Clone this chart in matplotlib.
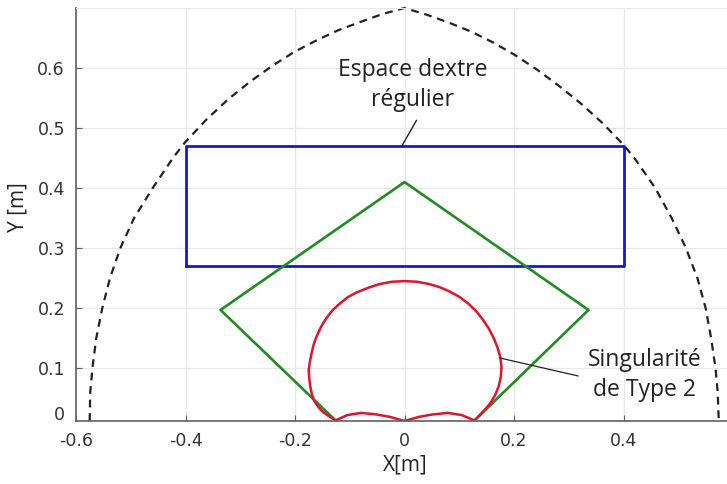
import matplotlib
matplotlib.use("Agg")
import matplotlib.pyplot as plt

# ---- data ----
# dashed workspace boundary (x, y), left foot -> apex -> right foot
boundary_x = [-0.575, -0.574, -0.570, -0.563, -0.552, -0.538, -0.519, -0.494, -0.460, -0.423,
              -0.402, -0.362, -0.322, -0.281, -0.241, -0.201, -0.161, -0.121, -0.080, -0.040, 0.0,
              0.040, 0.080, 0.121, 0.161, 0.201, 0.241, 0.281, 0.322, 0.362, 0.400, 0.420, 0.458,
              0.488, 0.514, 0.535, 0.550, 0.560, 0.568, 0.572, 0.574]
boundary_y = [0.012, 0.060, 0.100, 0.150, 0.200, 0.250, 0.300, 0.350, 0.400, 0.450,
              0.475, 0.514, 0.548, 0.578, 0.604, 0.627, 0.646, 0.663, 0.677, 0.690, 0.700,
              0.689, 0.676, 0.661, 0.643, 0.622, 0.598, 0.571, 0.541, 0.508, 0.472, 0.450, 0.400,
              0.350, 0.300, 0.250, 0.200, 0.150, 0.100, 0.060, 0.012]

# regular dexterous workspace (rectangle)
rect_x = [-0.40, 0.40, 0.40, -0.40, -0.40]
rect_y = [0.27, 0.27, 0.47, 0.47, 0.27]

# green polygon
green_x = [-0.126, -0.336, 0.0, 0.336, 0.128]
green_y = [0.013, 0.197, 0.410, 0.197, 0.013]

# type 2 singularity curve (red)
sing_x = [0.0, 0.027, 0.052, 0.079, 0.104, 0.128, 0.146, 0.157, 0.166, 0.172, 0.176, 0.177, 0.175,
          0.170, 0.163, 0.154, 0.143, 0.131, 0.116, 0.100, 0.082, 0.064, 0.046, 0.023, 0.0,
          -0.023, -0.046, -0.066, -0.088, -0.104, -0.119, -0.132, -0.143, -0.153, -0.161, -0.166,
          -0.170, -0.173, -0.175, -0.174, -0.172, -0.169, -0.164, -0.157, -0.149, -0.138, -0.126,
          -0.104, -0.079, -0.052, -0.027, 0.0]
sing_y = [0.012, 0.019, 0.023, 0.0255, 0.022, 0.013, 0.030, 0.042, 0.056, 0.070, 0.086, 0.102, 0.118,
          0.134, 0.150, 0.166, 0.181, 0.195, 0.208, 0.219, 0.228, 0.235, 0.240, 0.244, 0.245,
          0.244, 0.240, 0.234, 0.226, 0.218, 0.207, 0.196, 0.183, 0.168, 0.152, 0.139,
          0.124, 0.110, 0.097, 0.083, 0.069, 0.056, 0.044, 0.035, 0.027, 0.020, 0.013,
          0.022, 0.0255, 0.023, 0.019, 0.012]

xticks = [-0.6, -0.4, -0.2, 0.0, 0.2, 0.4]
xticklabels = ["-0.6", "-0.4", "-0.2", "0", "0.2", "0.4"]
yticks = [0.1, 0.2, 0.3, 0.4, 0.5, 0.6]
yticklabels = ["0.1", "0.2", "0.3", "0.4", "0.5", "0.6"]

label_font = ["Open Sans", "DejaVu Sans"]
txt_color = "#222222"

fig = plt.figure(figsize=(7.27, 4.84), dpi=100)
ax = fig.add_axes([76/727, 63/484, 651/727, 413/484])
ax.set_xlim(-0.6, 0.589)
ax.set_ylim(0.012, 0.70)

ax.set_xticks(xticks)
ax.set_xticklabels(xticklabels)
ax.set_yticks(yticks)
ax.set_yticklabels(yticklabels)
ax.grid(True, color="#e8e8e8", lw=0.9)
ax.set_axisbelow(True)
ax.spines["right"].set_visible(False)
ax.spines["top"].set_color("#e8e8e8")
for s in ["left", "bottom"]:
    ax.spines[s].set_color("#606060")
    ax.spines[s].set_linewidth(1.2)
ax.tick_params(direction="in", length=4, color="#606060", labelsize=12.5,
               labelcolor="#333333", pad=8)

ax.plot(boundary_x, boundary_y, color="#222222", lw=1.6, ls=(0, (3.5, 2.6)), clip_on=False)
ax.plot(rect_x, rect_y, color="#1515e0", lw=2.0)
ax.plot(green_x, green_y, color="#228b22", lw=1.9)
ax.plot(sing_x, sing_y, color="#e0142c", lw=1.8)

# "0" y tick label
ax.annotate("0", xy=(0, 0.022), xycoords=("axes fraction", "data"), xytext=(-8, 0),
            textcoords="offset points", ha="right", va="center", fontsize=12.5, color="#333333")

# axis labels
fig.text(405/727, 1 - 465/484, "X[m]", ha="center", va="center", fontsize=15,
         family=label_font, color=txt_color)
fig.text(18/727, 1 - 207/484, "Y [m]", ha="center", va="center", fontsize=15,
         family=label_font, color=txt_color, rotation=90)

# annotations
ax.text(0.015, 0.572, "Espace dextre\nrégulier", ha="center", va="center", fontsize=16.5,
        family=label_font, color=txt_color, linespacing=1.32)
ax.annotate("", xy=(-0.005, 0.47), xytext=(0.022, 0.513),
            arrowprops=dict(arrowstyle="-", color=txt_color, lw=1.0, shrinkA=0, shrinkB=0))
ax.text(0.438, 0.088, "Singularité\nde Type 2", ha="center", va="center", fontsize=16.5,
        family=label_font, color=txt_color, linespacing=1.32)
ax.annotate("", xy=(0.174, 0.117), xytext=(0.317, 0.087),
            arrowprops=dict(arrowstyle="-", color=txt_color, lw=0.9, shrinkA=0, shrinkB=0))

fig.savefig("out.png", dpi=100, facecolor="white")
